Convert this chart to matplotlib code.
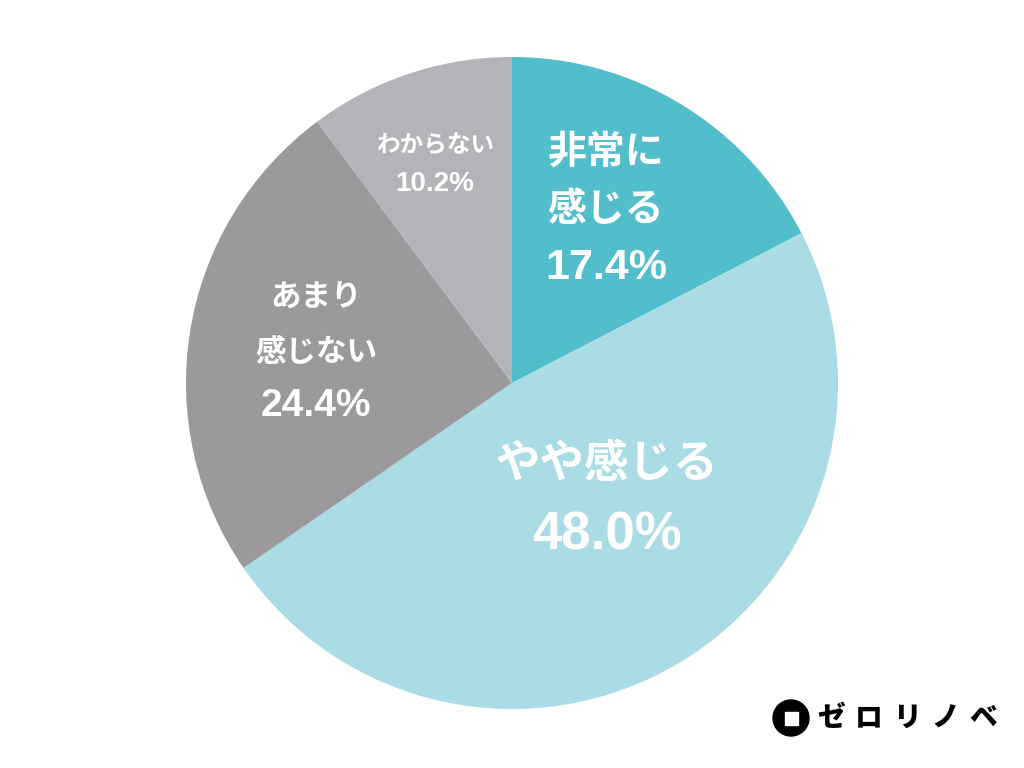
import matplotlib
matplotlib.use("Agg")
import matplotlib.pyplot as plt
from matplotlib.patches import Circle, Rectangle

categories = ["非常に\n感じる", "やや感じる", "あまり\n感じない", "わからない"]
values = [17.4, 48.0, 24.4, 10.2]
pct_labels = ["17.4%", "48.0%", "24.4%", "10.2%"]
colors = ["#52BDCB", "#A9DCE4", "#9B999C", "#B5B3B7"]

plt.rcParams['font.family'] = ['Noto Sans CJK JP', 'DejaVu Sans']

W, H = 1024, 768
R = 326.0
cx, cy = 512, 385  # center in pixels from bottom-left

fig = plt.figure(figsize=(W/100, H/100), dpi=100)
ax = fig.add_axes([0, 0, 1, 1])
ax.axis("off")

ax.pie(values, colors=colors, startangle=90, counterclock=False, radius=1.0,
       center=(0, 0), wedgeprops=dict(linewidth=0))
ax.set_xlim(-cx / R, (W - cx) / R)
ax.set_ylim(-cy / R, (H - cy) / R)
ax.set_aspect("auto")

def px(x, y_top):
    return ((x - cx) / R, ((H - y_top) - cy) / R)

# label placement (pixel coords from top-left): center x, center y, CJK size, pct size, line spacing
label_specs = [
    (606, 210, 28, 31, 58),
    (607, 500, 32, 38, 72),
    (316, 352, 22, 28, 54),
    (435, 165, 17, 20, 38),
]
for cat, pct, (x0, yc, fs, pfs, ls) in zip(categories, pct_labels, label_specs):
    lines = cat.split("\n")
    n = len(lines) + 1
    for i, line in enumerate(lines):
        yy = yc + (i - (n - 1) / 2) * ls
        ax.text(*px(x0, yy), line, ha="center", va="center", color="white",
                fontsize=fs, fontweight="bold")
    yy = yc + ((n - 1) - (n - 1) / 2) * ls
    ax.text(*px(x0, yy), pct, ha="center", va="center", color="white",
            fontsize=pfs, fontweight="bold", family="Liberation Sans")

# logo
lx, ly = px(791, 718)
ax.add_patch(Circle((lx, ly), 18 / R, color="black"))
s = 13 / R
ax.add_patch(Rectangle((lx - s / 2, ly - s / 2), s, s, color="white"))
for i, ch in enumerate("ゼロリノベ"):
    ax.text(*px(831 + i * 38, 718), ch, ha="center", va="center",
            color="black", fontsize=20, fontweight="heavy")

fig.savefig("out.png", dpi=100, facecolor="white")
